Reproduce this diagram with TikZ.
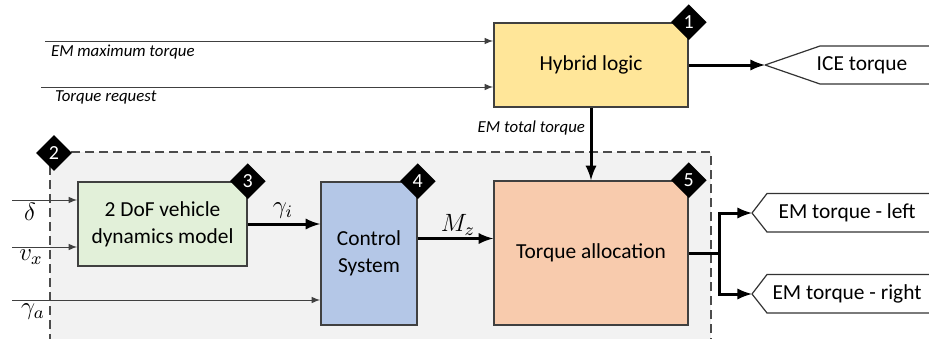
\RequirePackage{fix-cm}
\documentclass[tikz,border=0pt]{standalone}
\usepackage{fontspec}
\setmainfont{Carlito}
\usepackage{tikz}
\usetikzlibrary{arrows, shapes, calc, positioning}
\definecolor{hybridfill}{HTML}{FFE699}
\definecolor{doffill}{HTML}{E2F0D9}
\definecolor{ctrlfill}{HTML}{B4C7E7}
\definecolor{allocfill}{HTML}{F8CBAD}
\definecolor{areafill}{HTML}{F2F2F2}
\begin{document}
\begin{tikzpicture}[x=0.5pt,y=-0.5pt,
block/.style={rectangle,draw=black!75,line width=0.8pt,align=center,inner sep=2pt,font=\fontsize{10.7}{13.5}\selectfont},
badge/.style={diamond,fill=black,text=white,inner sep=0pt,minimum size=18pt,font=\fontsize{10}{12}\selectfont},
sig/.style={draw=black!75,line width=0.5pt,-latex},
flow/.style={line width=1.5pt,-latex},
outline/.style={draw=black!80,line width=0.6pt},
lbl/.style={font=\fontsize{8.4}{10}\selectfont\itshape},
mlbl/.style={font=\fontsize{10.7}{13}\selectfont},
mathlbl/.style={font=\fontsize{12.5}{15}\selectfont}]
 \useasboundingbox (0,0) rectangle (929,338);
 % controller area
 \coordinate (areanw) at (50,152);
 \draw[fill=areafill,draw=black!70,line width=0.6pt,dash pattern=on 4.5pt off 2.5pt] (areanw) rectangle (711,360);
 % blocks
 \node[block,fill=hybridfill,minimum width=97pt,minimum height=42pt] (hybrid) at (591,65) {Hybrid logic};
 \node[block,fill=doffill,minimum width=84.5pt,minimum height=42pt] (dof) at (162.5,224) {2 DoF vehicle\\dynamics model};
 \node[block,fill=ctrlfill,minimum width=48pt,minimum height=71.5pt] (ctrl) at (369,253.5) {Control\\System};
 \node[block,fill=allocfill,minimum width=97pt,minimum height=72pt] (alloc) at (591,253) {Torque allocation};
 % inputs of the hybrid logic
 \coordinate (emmax) at (45,41);
 \coordinate (treq) at (41,87);
 \draw[sig] (emmax) -- (emmax -| hybrid.west);
 \draw[sig] (treq) -- (treq -| hybrid.west);
 \node[lbl,anchor=west] (emmaxlbl) at (44,52) {EM maximum torque};
 \node[lbl,anchor=west] (treqlbl) at (48,97) {Torque request};
 % ICE output
 \coordinate (icetip) at (765,65);
 \draw[flow] (hybrid.east) -- (icetip);
 \draw[outline] (icetip) -- ++(55,-19) -- ++(130,0) (icetip) -- ++(55,19) -- ++(130,0);
 \node[mlbl] (ice) at (862,65) {ICE torque};
 \draw[flow] (hybrid.south) -- (alloc.north);
 \node[lbl,anchor=east] (emtotlbl) at (592,128) {EM total torque};
 % vehicle inputs
 \coordinate (delta) at (12,200);
 \coordinate (vx) at (12,247);
 \coordinate (gamma) at (12,300);
 \draw[sig] (delta) -- (delta -| dof.west);
 \draw[sig] (vx) -- (vx -| dof.west);
 \draw[sig] (gamma) -- (gamma -| ctrl.west);
 \node[mathlbl] (deltalbl) at (30,212) {$\delta$};
 \node[mathlbl] (vxlbl) at (31,257) {$v_x$};
 \node[mathlbl] (gammalbl) at (33,312) {$\gamma_a$};
 % yaw rate and moment
 \draw[flow] (dof.east) -- (dof.east -| ctrl.west);
 \node[mathlbl] (gilbl) at (283,211) {$\gamma_i$};
 \coordinate (mz) at ($(ctrl.east)+(0,-15)$);
 \draw[flow] (mz) -- (mz -| alloc.west);
 \node[mathlbl] (mzlbl) at (458,225) {$M_z$};
 % EM outputs
 \coordinate (split) at ($(alloc.east)+(31,0)$);
 \coordinate (lefttip) at (752,213);
 \coordinate (righttip) at (752,294);
 \draw[flow] (alloc.east) -- (split) |- (lefttip);
 \draw[flow] (split) |- (righttip);
 \foreach \T in {lefttip,righttip}
  \draw[outline] (\T) -- ++(15,-19.5) -- ++(190,0) (\T) -- ++(15,19) -- ++(190,0);
 \node[mlbl] (emleft) at (847,213) {EM torque - left};
 \node[mlbl] (emright) at (847,294) {EM torque - right};
 % numbers
 \foreach \N/\B in {1/hybrid,3/dof,4/ctrl,5/alloc}
  \node[badge] (badge\N) at (\B.north east) {\N};
 \node[badge] (badge2) at (54,153) {2};
\end{tikzpicture}
\end{document}
